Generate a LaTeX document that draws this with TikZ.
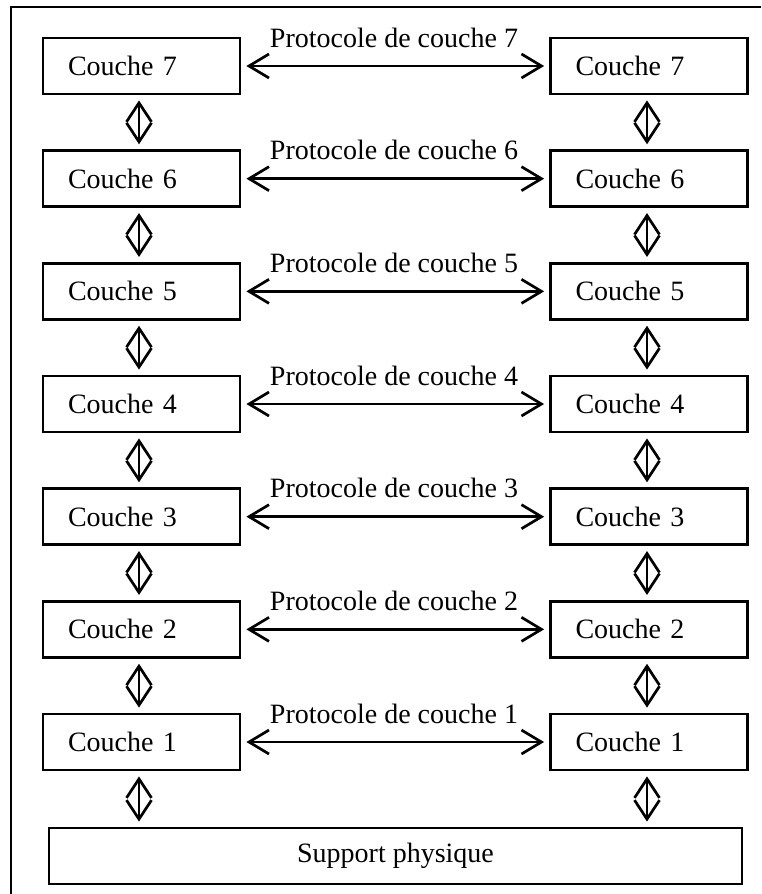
\documentclass[tikz,border=0pt]{standalone}
\usepackage{fontspec}
\setmainfont{Liberation Serif}
\usetikzlibrary{arrows.meta}
\begin{document}
\begin{tikzpicture}[x=1pt,y=-1pt,
  txt/.style={font=\fontsize{28}{30}\selectfont},
  box/.style={draw,line width=2.8pt,minimum height=56pt,text width=147pt,
    inner xsep=25pt,inner ysep=0pt,align=left,txt},
  sbox/.style={draw,line width=2.8pt,minimum height=56pt,minimum width=693pt,
    inner sep=0pt,txt},
  harrow/.style={line width=2.7pt,{Straight Barb[length=20pt,width=24pt]}-{Straight Barb[length=20pt,width=24pt]},
    shorten <=5pt,shorten >=5pt},
  varrow/.style={line width=2.7pt,{Straight Barb[length=19pt,width=25pt]}-{Straight Barb[length=19pt,width=25pt]},
    shorten <=5pt,shorten >=5pt},
  frame/.style={line width=2pt}]
\useasboundingbox (0,0) rectangle (761,894);
\draw[frame] (11,894) -- (11,7) -- (761,7);
\foreach \i in {7,...,1}{
  \pgfmathsetmacro\cy{66+(7-\i)*112.67}
  \pgfmathsetmacro\ty{\cy-19}
  \node[box] (L\i) at (141.5,\cy) {\raisebox{-2pt}{Couche \i}};
  \node[box] (R\i) at (649,\cy) {\raisebox{-2pt}{Couche \i}};
  \node[txt,anchor=base,inner sep=0pt] (P\i) at (394,\ty) {Protocole de couche \i};
  \draw[harrow] (L\i.east) -- (R\i.west);
}
\node[sbox] (S) at (395.5,856) {Support physique};
\foreach \i/\j in {7/6,6/5,5/4,4/3,3/2,2/1}{
  \draw[varrow] ([xshift=-2.5pt]L\i.south) -- ([xshift=-2.5pt]L\j.north);
  \draw[varrow] ([xshift=-2pt]R\i.south) -- ([xshift=-2pt]R\j.north);
}
\draw[varrow] ([xshift=-2.5pt]L1.south) -- ([xshift=-2.5pt]L1.south |- S.north);
\draw[varrow] ([xshift=-2pt]R1.south) -- ([xshift=-2pt]R1.south |- S.north);
\end{tikzpicture}
\end{document}
